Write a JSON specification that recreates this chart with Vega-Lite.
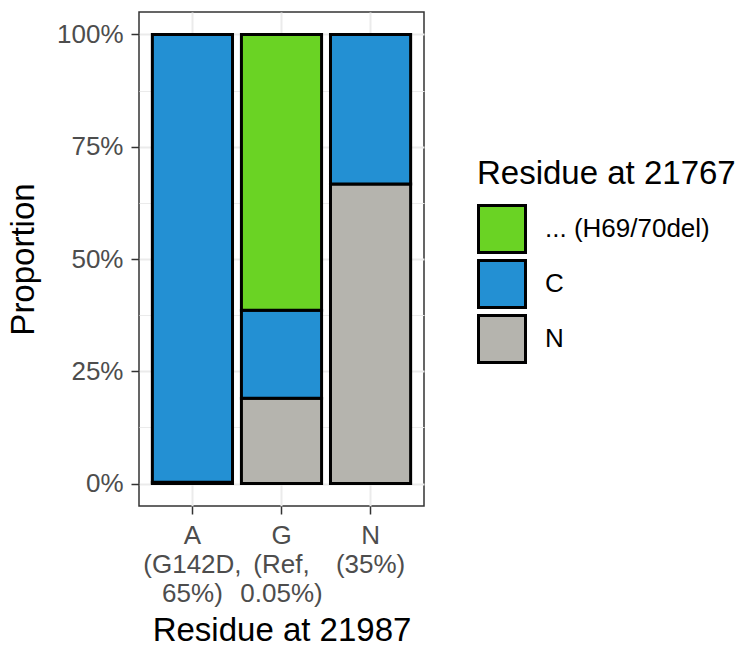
{
  "$schema": "https://vega.github.io/schema/vega-lite/v6.json",
  "width": 285,
  "height": 494,
  "autosize": {"type": "none"},
  "padding": {"left": 139, "top": 12, "right": 331, "bottom": 148},
  "background": "white",
  "config": {
    "font": "Liberation Sans",
    "view": {"stroke": "#333333", "strokeWidth": 1.5}
  },
  "data": {
    "values": [
      {"pos": "A", "residue": "N", "proportion": 0.003},
      {"pos": "A", "residue": "C", "proportion": 0.997},
      {"pos": "G", "residue": "N", "proportion": 0.19},
      {"pos": "G", "residue": "C", "proportion": 0.196},
      {"pos": "G", "residue": "... (H69/70del)", "proportion": 0.614},
      {"pos": "N", "residue": "N", "proportion": 0.667},
      {"pos": "N", "residue": "C", "proportion": 0.333}
    ]
  },
  "mark": {"type": "bar", "stroke": "black", "strokeWidth": 3},
  "encoding": {
    "x": {
      "field": "pos",
      "type": "nominal",
      "sort": ["A", "G", "N"],
      "scale": {"paddingInner": 0.1, "paddingOuter": 0.15},
      "axis": {
        "title": "Residue at 21987",
        "titleFontSize": 33,
        "titleFontWeight": "normal",
        "titleColor": "black",
        "titlePadding": 8,
        "labelAngle": 0,
        "labelFontSize": 26,
        "labelColor": "#4D4D4D",
        "labelLineHeight": 29,
        "labelPadding": 8,
        "labelExpr": "datum.value == 'A' ? ['A', '(G142D,', '65%)'] : datum.value == 'G' ? ['G', '(Ref,', '0.05%)'] : ['N', '(35%)']",
        "bandPosition": 0.5,
        "domain": false,
        "ticks": true,
        "tickSize": 8,
        "tickWidth": 1.5,
        "tickColor": "#333333",
        "grid": true,
        "gridColor": "#EBEBEB",
        "gridWidth": 2
      }
    },
    "y": {
      "field": "proportion",
      "type": "quantitative",
      "stack": true,
      "scale": {"domain": [-0.05, 1.05], "nice": false, "zero": false},
      "axis": {
        "title": "Proportion",
        "titleFontSize": 33,
        "titleFontWeight": "normal",
        "titleColor": "black",
        "titlePadding": 16,
        "values": [0, 0.125, 0.25, 0.375, 0.5, 0.625, 0.75, 0.875, 1],
        "labelExpr": "(datum.value * 4) % 1 == 0 ? format(datum.value, '.0%') : ''",
        "labelFontSize": 26,
        "labelColor": "#4D4D4D",
        "labelPadding": 8,
        "domain": false,
        "tickSize": 8,
        "tickWidth": 1.5,
        "tickColor": "#333333",
        "tickOpacity": {"condition": {"test": "(datum.value * 4) % 1 != 0", "value": 0}, "value": 1},
        "grid": true,
        "gridColor": "#EBEBEB",
        "gridWidth": {"condition": {"test": "(datum.value * 4) % 1 != 0", "value": 1}, "value": 2}
      }
    },
    "color": {
      "field": "residue",
      "type": "nominal",
      "scale": {
        "domain": ["... (H69/70del)", "C", "N"],
        "range": ["#6AD324", "#2390D3", "#B5B4AE"]
      },
      "legend": {
        "orient": "none",
        "legendX": 338,
        "legendY": 146,
        "title": "Residue at 21767",
        "titleFontSize": 33,
        "titleFontWeight": "normal",
        "titleColor": "black",
        "titleLimit": 0,
        "titlePadding": 13,
        "labelFontSize": 26,
        "labelColor": "black",
        "labelLimit": 0,
        "labelOffset": 18,
        "symbolType": "square",
        "symbolSize": 2209,
        "symbolStrokeColor": "black",
        "symbolStrokeWidth": 3,
        "symbolOpacity": 1,
        "rowPadding": -13
      }
    },
    "order": {"field": "residue", "sort": "descending"}
  }
}
